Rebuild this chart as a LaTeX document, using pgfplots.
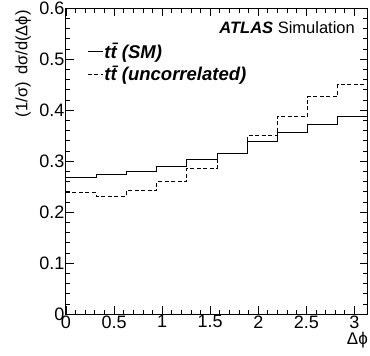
\documentclass[border=0pt]{standalone}
\usepackage{pgfplots}
\pgfplotsset{compat=1.18}
\usepackage{fontspec}
\setmainfont{Liberation Sans}
\begin{document}
\begin{tikzpicture}
\path[use as bounding box] (-66pt,-41.7pt) rectangle (304pt,314.3pt);
\begin{axis}[
  at={(0pt,0pt)}, anchor=south west,
  scale only axis, width=302pt, height=306pt,
  xmin=0, xmax=3.14159, ymin=0, ymax=0.6,
  xtick={0,0.5,1,1.5,2,2.5,3},
  ytick={0,0.1,0.2,0.3,0.4,0.5,0.6},
  minor x tick num=4, minor y tick num=4,
  major tick length=8pt, minor tick length=4.5pt,
  tick align=inside,
  tick style={line width=0.8pt, black},
  axis line style={line width=1pt},
  /pgf/number format/assume math mode=true,
  ticklabel style={font=\fontsize{18}{21}\selectfont},
  xticklabel style={inner sep=1pt},
  yticklabel style={inner sep=1.5pt},
  ylabel={(1/σ)\hspace{0.45em}dσ/d(Δϕ)},
  ylabel style={font=\fontsize{16.5}{19}\selectfont, at={(axis description cs:-0.142,0.994)}, anchor=east, rotate=0, inner sep=0pt},
  xlabel={Δϕ},
  xlabel style={font=\fontsize{17}{20}\selectfont, at={(axis description cs:1,-0.058)}, anchor=north east, inner sep=0pt},
  legend style={at={(rel axis cs:0.07,0.89)}, anchor=north west, draw=none, fill=none,
    font=\fontsize{18.5}{21}\selectfont\bfseries\itshape, inner sep=0pt,
    row sep=3.5pt, nodes={inner sep=1.2pt}},
  legend cell align=left,
  legend image code/.code={\draw[#1] (0pt,0pt) -- (15pt,0pt);},
]
\addplot[const plot, black, line width=0.9pt] coordinates {
(0.00000,0.269) (0.31416,0.274) (0.62832,0.280) (0.94248,0.289) (1.25664,0.303)
(1.57080,0.316) (1.88496,0.338) (2.19911,0.356) (2.51327,0.373) (2.82743,0.388)
(3.14159,0.388)};
\addlegendentry{t\={t} (SM)}
\addplot[const plot, black, line width=0.9pt, dash pattern=on 4pt off 2.5pt] coordinates {
(0.00000,0.238) (0.31416,0.231) (0.62832,0.242) (0.94248,0.260) (1.25664,0.286)
(1.57080,0.315) (1.88496,0.350) (2.19911,0.388) (2.51327,0.427) (2.82743,0.450)
(3.14159,0.450)};
\addlegendentry{t\={t} (uncorrelated)}
\node[anchor=base east, font=\fontsize{16.5}{19}\selectfont, inner sep=0pt] at (rel axis cs:0.957,0.918) {\textbf{\textit{ATLAS}} Simulation};
\end{axis}
\end{tikzpicture}
\end{document}
